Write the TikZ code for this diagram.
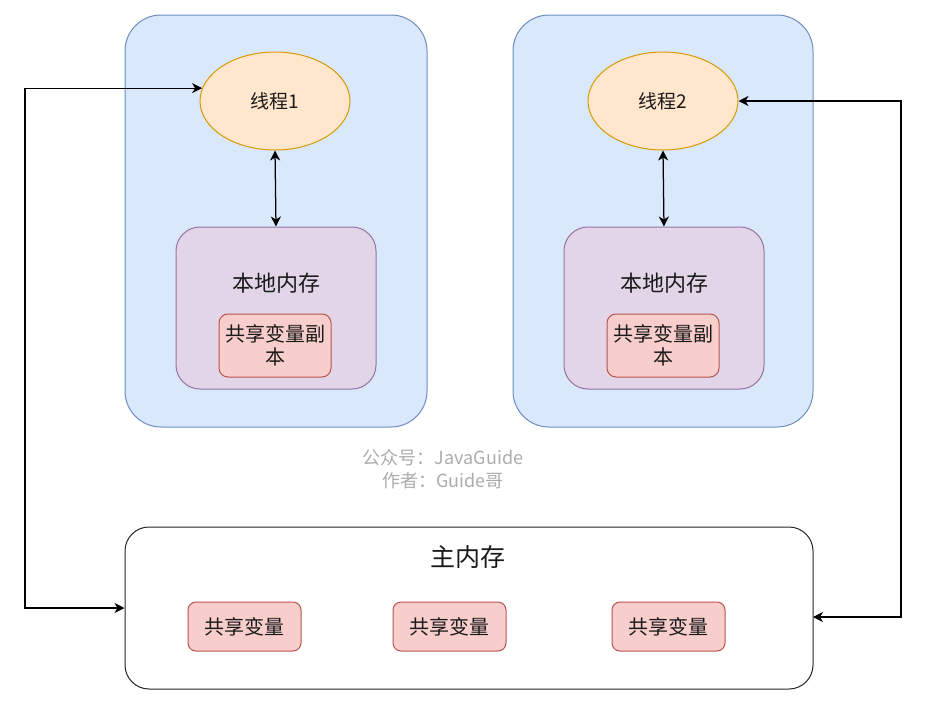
\documentclass[tikz,border=0pt]{standalone}
\usepackage{fontspec}
\setmainfont{Noto Sans CJK SC}
\usetikzlibrary{shapes.geometric,arrows.meta}
\definecolor{bluefill}{HTML}{DAE8FC}
\definecolor{bluedraw}{HTML}{6C8EBF}
\definecolor{orfill}{HTML}{FFE6CC}
\definecolor{ordraw}{HTML}{D79B00}
\definecolor{pufill}{HTML}{E1D5E7}
\definecolor{pudraw}{HTML}{9673A6}
\definecolor{refill}{HTML}{F8CECC}
\definecolor{redraw}{HTML}{B85450}
\definecolor{txt}{HTML}{1A1A1A}
\definecolor{wm}{HTML}{ABABAB}
\begin{document}
\begin{tikzpicture}[x=1pt,y=-1pt,
  box/.style={rectangle,inner sep=0pt,line width=1pt,text=txt},
  bluebox/.style={box,fill=bluefill,draw=bluedraw,rounded corners=36pt,minimum width=302pt,minimum height=412pt},
  thread/.style={ellipse,inner sep=0pt,line width=1pt,fill=orfill,draw=ordraw,minimum width=150pt,minimum height=98pt,text=txt,font=\fontsize{19}{22}\selectfont},
  localbox/.style={box,fill=pufill,draw=pudraw,rounded corners=24pt,minimum width=200pt,minimum height=162pt},
  copybox/.style={box,fill=refill,draw=redraw,rounded corners=9pt,minimum width=112pt,minimum height=63pt,align=center,font=\fontsize{20}{23}\selectfont},
  varbox/.style={box,fill=refill,draw=redraw,rounded corners=8pt,minimum width=113pt,minimum height=49pt,font=\fontsize{20}{23}\selectfont},
  lbl/.style={text=txt,inner sep=0pt},
  arr/.style={line width=1.25pt,draw=black,line join=miter,{Stealth[length=10pt,width=10pt,inset=3pt]}-{Stealth[length=10pt,width=10pt,inset=3pt]}}
]
\useasboundingbox (0,0) rectangle (930,710);
% left group
\node[bluebox] (b1) at (276,221) {};
\node[thread] (e1) at (275,101) {线程1};
\node[localbox] (p1) at (276,308) {};
\node[lbl,font=\fontsize{22}{24}\selectfont] (p1t) at (276,283) {本地内存};
\node[copybox] (c1) at (275,345.5) {共享变量副\\本};
% right group
\node[bluebox,minimum width=300pt] (b2) at (663,221) {};
\node[thread] (e2) at (663,101) {线程2};
\node[localbox] (p2) at (664,308) {};
\node[lbl,font=\fontsize{22}{24}\selectfont] (p2t) at (664,283) {本地内存};
\node[copybox] (c2) at (663,345.5) {共享变量副\\本};
% watermark
\node[text=wm,align=center,inner sep=0pt,font=\fontsize{18}{23}\selectfont] (wmk) at (443,469.5) {公众号：JavaGuide\\作者：Guide哥};
% main memory
\node[box,fill=white,draw=black!85,rounded corners=24pt,minimum width=688pt,minimum height=162pt] (m) at (469,608) {};
\node[lbl,font=\fontsize{25}{28}\selectfont] (mt) at (468,557) {主内存};
\node[varbox] (v1) at (244.5,626.5) {共享变量};
\node[varbox] (v2) at (449.5,626.5) {共享变量};
\node[varbox] (v3) at (668.5,626.5) {共享变量};
% connectors
\draw[arr] (e1.south) -- (p1.north);
\draw[arr] (e2.south) -- (p2.north);
\coordinate (lx) at (25,0);
\coordinate (l1) at (lx |- e1.170.7);
\coordinate (l2) at (lx |- m.west);
\draw[arr] (e1.170.7) -- (l1) -- (l2) -- (m.west);
\coordinate (r1) at (901,101);
\coordinate (r2) at (901,617);
\coordinate (r3) at (813,617);
\draw[arr] (e2.east) -- (r1) -- (r2) -- (r3);
\end{tikzpicture}
\end{document}
